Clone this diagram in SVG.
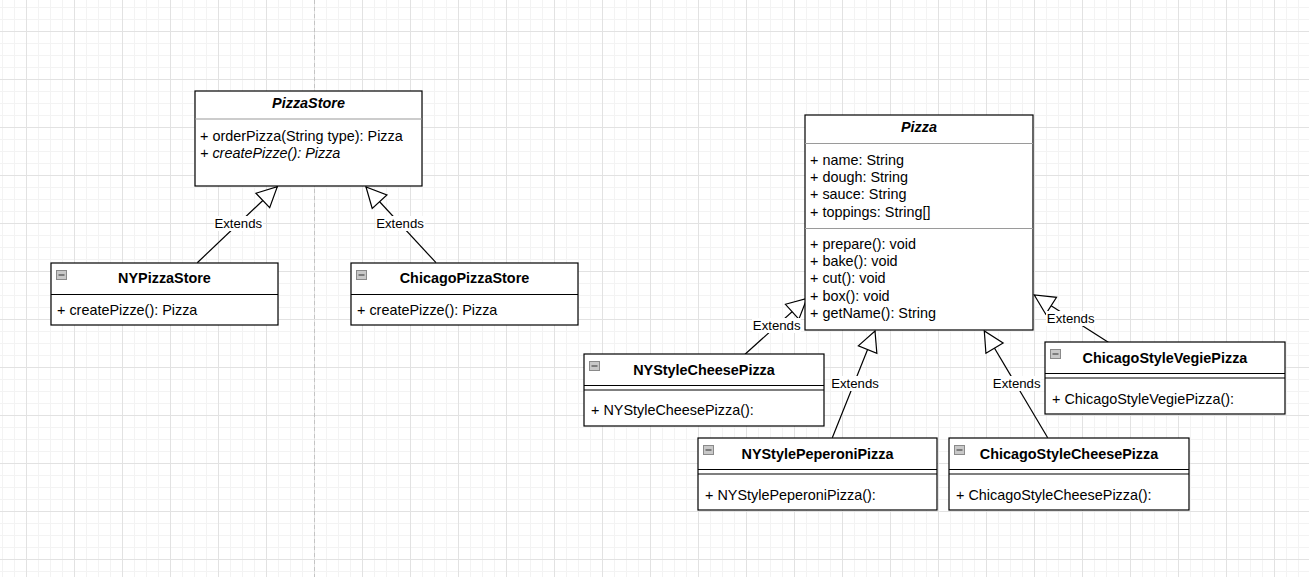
<svg xmlns="http://www.w3.org/2000/svg" width="1309" height="577" viewBox="0 0 1309 577">
<defs>
<pattern id="grid" patternUnits="userSpaceOnUse" x="2" y="7" width="48" height="48">
<path d="M0.5,0V48M12.5,0V48M36.5,0V48M0,0.5H48M0,12.5H48M0,36.5H48" stroke="#f3f3f3" stroke-width="1" fill="none"/>
<path d="M24.5,0V48M0,24.5H48" stroke="#e2e2e2" stroke-width="1" fill="none"/>
</pattern>
<marker id="tri" markerUnits="userSpaceOnUse" markerWidth="24" markerHeight="24" viewBox="0 0 24 24" refX="21" refY="11" orient="auto" overflow="visible">
<path d="M1,1 L21,11 L1,21 Z" fill="#fff" stroke="#000" stroke-width="1.2"/>
</marker>
<g id="icon">
<rect x="0.5" y="0.5" width="10" height="9" fill="#c8c8c8" stroke="#8a8a8a" stroke-width="1"/>
<line x1="2.5" y1="5" x2="8.5" y2="5" stroke="#4a4a4a" stroke-width="1.2"/>
</g>
</defs>
<style>
.box{fill:#fff;stroke:#000;stroke-width:1.2}
.sep{stroke:#000;stroke-width:1.2}
.gsep{stroke:#9a9a9a;stroke-width:1.2}
.t{font-family:"Liberation Sans",Arial,sans-serif;font-size:14.4px;fill:#000}
.b{font-weight:bold;text-anchor:middle}
.i{font-style:italic}
.edge{stroke:#000;stroke-width:1.2;fill:none;marker-end:url(#tri)}
.lbg{fill:#fff}
.lbl{font-family:"Liberation Sans",Arial,sans-serif;font-size:13.2px;fill:#000;text-anchor:middle}
</style>
<rect width="1309" height="577" fill="#fff"/>
<rect width="1309" height="577" fill="url(#grid)"/>
<line x1="314.5" y1="0" x2="314.5" y2="577" stroke="#c4c4c4" stroke-width="1" stroke-dasharray="4,3"/>

<g id="connectors">
<path class="edge" d="M197.3,262.7 L277.3,186.7"/>
<path class="edge" d="M436,262.7 L366,187"/>
<path class="edge" d="M745,354.3 L807,298.3"/>
<path class="edge" d="M832.3,437.7 L875,331"/>
<path class="edge" d="M1047.7,437.7 L984.3,331"/>
<path class="edge" d="M1108.3,342.3 L1034.3,295"/>
<rect class="lbg" x="214" y="216" width="49" height="15"/>
<text class="lbl" x="238.3" y="228">Extends</text>
<rect class="lbg" x="376" y="216" width="49" height="15"/>
<text class="lbl" x="400" y="228">Extends</text>
<rect class="lbg" x="752" y="318" width="49" height="15"/>
<text class="lbl" x="776.7" y="330.4">Extends</text>
<rect class="lbg" x="831" y="376" width="49" height="15"/>
<text class="lbl" x="855" y="388">Extends</text>
<rect class="lbg" x="992" y="376" width="49" height="15"/>
<text class="lbl" x="1016.7" y="388">Extends</text>
<rect class="lbg" x="1046" y="311" width="49" height="15"/>
<text class="lbl" x="1070.7" y="323">Extends</text>
</g>

<g id="PizzaStore">
<rect class="box" x="195" y="91" width="227" height="95"/>
<line class="gsep" x1="195" y1="119" x2="422" y2="119"/>
<text class="t b i" x="308.5" y="108">PizzaStore</text>
<text class="t" x="200" y="141">+ orderPizza(String type): Pizza</text>
<text class="t i" x="200" y="158">+ createPizze(): Pizza</text>
</g>

<g id="NYPizzaStore">
<rect class="box" x="51" y="263" width="227" height="62"/>
<line class="sep" x1="51" y1="294.5" x2="278" y2="294.5"/>
<use href="#icon" x="56" y="270"/>
<text class="t b" x="164.5" y="283">NYPizzaStore</text>
<text class="t" x="57" y="315">+ createPizze(): Pizza</text>
</g>

<g id="ChicagoPizzaStore">
<rect class="box" x="351" y="263" width="227" height="62"/>
<line class="sep" x1="351" y1="294.5" x2="578" y2="294.5"/>
<use href="#icon" x="356" y="270"/>
<text class="t b" x="464.5" y="283">ChicagoPizzaStore</text>
<text class="t" x="357" y="315">+ createPizze(): Pizza</text>
</g>

<g id="Pizza">
<rect class="box" x="805" y="115" width="228" height="215"/>
<line class="gsep" x1="805" y1="143.5" x2="1033" y2="143.5"/>
<line class="gsep" x1="805" y1="228.5" x2="1033" y2="228.5"/>
<text class="t b i" x="919" y="132">Pizza</text>
<text class="t" x="810" y="165">+ name: String</text>
<text class="t" x="810" y="182.2">+ dough: String</text>
<text class="t" x="810" y="199.4">+ sauce: String</text>
<text class="t" x="810" y="216.6">+ toppings: String[]</text>
<text class="t" x="810" y="249">+ prepare(): void</text>
<text class="t" x="810" y="266.2">+ bake(): void</text>
<text class="t" x="810" y="283.4">+ cut(): void</text>
<text class="t" x="810" y="300.6">+ box(): void</text>
<text class="t" x="810" y="317.8">+ getName(): String</text>
</g>

<g id="NYStyleCheesePizza">
<rect class="box" x="584" y="354" width="240" height="72"/>
<line class="sep" x1="584" y1="385.5" x2="824" y2="385.5"/>
<line class="sep" x1="584" y1="390" x2="824" y2="390"/>
<use href="#icon" x="589" y="361"/>
<text class="t b" x="704" y="374.5">NYStyleCheesePizza</text>
<text class="t" x="591" y="415">+ NYStyleCheesePizza():</text>
</g>

<g id="NYStylePeperoniPizza">
<rect class="box" x="698" y="438" width="239" height="72"/>
<line class="sep" x1="698" y1="469.5" x2="937" y2="469.5"/>
<line class="sep" x1="698" y1="474" x2="937" y2="474"/>
<use href="#icon" x="703" y="445"/>
<text class="t b" x="817.5" y="458.5">NYStylePeperoniPizza</text>
<text class="t" x="705" y="499.5">+ NYStylePeperoniPizza():</text>
</g>

<g id="ChicagoStyleCheesePizza">
<rect class="box" x="949" y="438" width="240" height="72"/>
<line class="sep" x1="949" y1="469.5" x2="1189" y2="469.5"/>
<line class="sep" x1="949" y1="474" x2="1189" y2="474"/>
<use href="#icon" x="954" y="445"/>
<text class="t b" x="1069" y="458.5">ChicagoStyleCheesePizza</text>
<text class="t" x="956" y="499.5">+ ChicagoStyleCheesePizza():</text>
</g>

<g id="ChicagoStyleVegiePizza">
<rect class="box" x="1045" y="342" width="240" height="72"/>
<line class="sep" x1="1045" y1="373.5" x2="1285" y2="373.5"/>
<line class="sep" x1="1045" y1="378" x2="1285" y2="378"/>
<use href="#icon" x="1050" y="349"/>
<text class="t b" x="1165" y="362.5">ChicagoStyleVegiePizza</text>
<text class="t" x="1052" y="403.5">+ ChicagoStyleVegiePizza():</text>
</g>
</svg>
